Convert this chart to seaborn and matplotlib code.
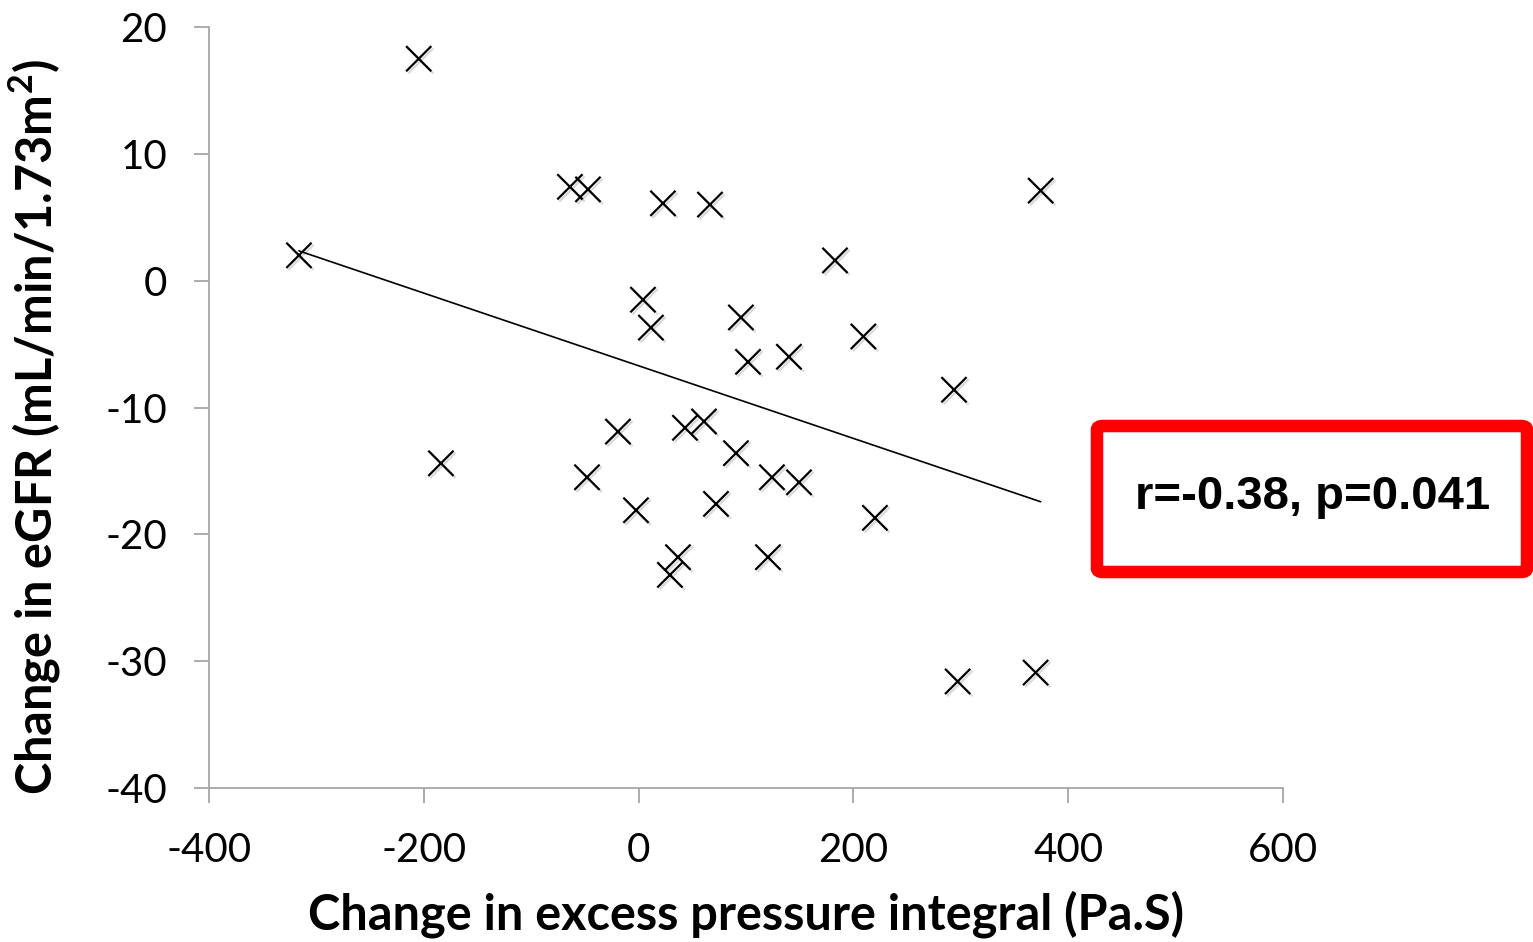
import matplotlib
matplotlib.use("Agg")
import matplotlib.pyplot as plt
import matplotlib.patheffects as pe
from matplotlib.patches import FancyBboxPatch
import seaborn as sns
import pandas as pd

# change in excess pressure integral (Pa.S)
delta_xspi = [-316.2, -204.7, -184.0, -63.9, -47.1, -48.0, -19.2, -2.4, 4.1, 11.5,
              22.7, 29.2, 36.7, 43.2, 60.9, 66.5, 72.1, 90.7, 95.3, 101.9,
              124.2, 120.5, 140.0, 149.4, 182.9, 209.3, 220.1, 293.7, 297.1, 374.4,
              369.7]
# change in eGFR (mL/min/1.73m2)
delta_egfr = [2.0, 17.5, -14.4, 7.4, 7.2, -15.5, -11.9, -18.1, -1.5, -3.7,
              6.1, -23.2, -21.8, -11.6, -11.1, 6.0, -17.6, -13.6, -2.9, -6.4,
              -15.5, -21.8, -6.0, -15.9, 1.6, -4.4, -18.7, -8.6, -31.6, 7.1,
              -30.9]

x_ticks = [-400, -200, 0, 200, 400, 600]
y_ticks = [-40, -30, -20, -10, 0, 10, 20]
stats_label = "r=-0.38, p=0.041"

df = pd.DataFrame({"xspi": delta_xspi, "egfr": delta_egfr})

sns.set_style("white")
plt.rcParams["font.family"] = ["Lato", "DejaVu Sans"]
plt.rcParams["axes.unicode_minus"] = False
plt.rcParams["text.color"] = "black"
plt.rcParams["axes.labelcolor"] = "black"
plt.rcParams["xtick.labelcolor"] = "black"
plt.rcParams["ytick.labelcolor"] = "black"

fig = plt.figure(figsize=(15.33, 9.42), dpi=100)
ax = fig.add_axes([0.1363, 0.1635, 0.7006, 0.8078])

sns.regplot(data=df, x="xspi", y="egfr", scatter=False, ci=None, truncate=True,
            line_kws={"color": "black", "linewidth": 1.2}, ax=ax)
sns.scatterplot(data=df, x="xspi", y="egfr", marker="x", s=330, color="black",
                linewidth=1.6, ax=ax, zorder=3,
                path_effects=[pe.SimpleLineShadow(offset=(1.5, -1.5), alpha=0.15, rho=0.3),
                              pe.Normal()])

ax.set_xlim(-400, 600)
ax.set_ylim(-40, 20)
ax.set_xticks(x_ticks)
ax.set_yticks(y_ticks)
ax.tick_params(axis="both", direction="out", length=11, width=1.3, color="#a6a6a6",
               labelsize=29, left=True, bottom=True)
ax.tick_params(axis="x", pad=21)
ax.tick_params(axis="y", pad=19)
for side in ["top", "right"]:
    ax.spines[side].set_visible(False)
for side in ["left", "bottom"]:
    ax.spines[side].set_color("#a6a6a6")
    ax.spines[side].set_linewidth(1.3)

ax.set_xlabel("Change in excess pressure integral (Pa.S)", fontsize=35,
              fontweight="bold", labelpad=15)
ax.set_ylabel("Change in eGFR (mL/min/1.73m$^\\mathregular{2}$)", fontsize=35,
              fontweight="bold")
ax.yaxis.set_label_coords(-0.136, 0.474)

# red annotation box
box = FancyBboxPatch((1097 / 1533, 1 - 572 / 942), 430 / 1533, 146 / 942,
                     boxstyle="round,pad=0,rounding_size=0.004",
                     transform=fig.transFigure, facecolor="white",
                     edgecolor="#ff0000", linewidth=9)
fig.add_artist(box)
fig.text(1313 / 1533, 1 - 497 / 942, stats_label, ha="center", va="center",
         fontsize=34, fontweight="bold", family=["Liberation Sans", "DejaVu Sans"])

fig.savefig("out.png", dpi=100)
